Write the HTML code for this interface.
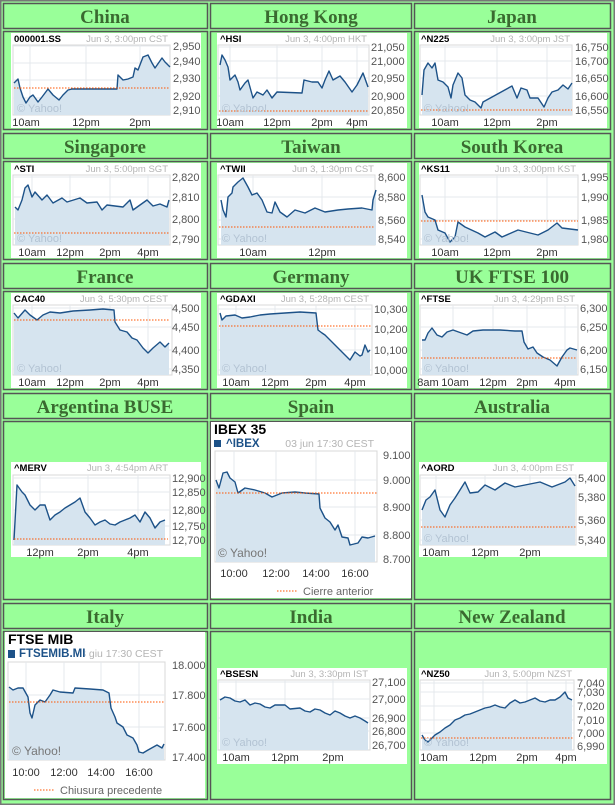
<!DOCTYPE html>
<html><head><meta charset="utf-8"><style>
html,body{margin:0;padding:0;background:#99ff99;}
svg{display:block;}
.t{font-family:"Liberation Serif",serif;font-weight:bold;font-size:19px;fill:#3a6a30;text-anchor:middle;}
.tk{font-family:"Liberation Sans",sans-serif;font-weight:bold;font-size:9.5px;fill:#000;}
.dt{font-family:"Liberation Sans",sans-serif;font-size:9.5px;fill:#b4b4b4;text-anchor:end;}
.yl{font-family:"Liberation Sans",sans-serif;font-size:11px;fill:#555;}
.xl{font-family:"Liberation Sans",sans-serif;font-size:11px;fill:#333;text-anchor:middle;}
.wm{font-family:"Liberation Sans",sans-serif;font-size:11px;fill:#b3c3d3;}
.ln{fill:none;stroke:#1d5288;stroke-width:1.4;stroke-linejoin:round;}
.fl{fill:#d6e4ef;stroke:none;}
.pc{stroke:#ff5500;stroke-width:1;stroke-dasharray:1.5 1.5;}
.g{stroke:#e4e8ec;stroke-width:1;}
.bx{fill:#99ff99;stroke:#555;stroke-width:1.5;}
.big{font-family:"Liberation Sans",sans-serif;font-weight:bold;font-size:14px;fill:#000;}
.bt{font-family:"Liberation Sans",sans-serif;font-weight:bold;font-size:11.5px;fill:#1d5288;}
.lg{font-family:"Liberation Sans",sans-serif;font-size:11px;fill:#666;}
</style></head><body>
<svg width="615" height="805" viewBox="0 0 615 805" xmlns="http://www.w3.org/2000/svg">
<rect x="0" y="0" width="615" height="805" fill="#99ff99"/>
<rect x="0.5" y="0.5" width="614" height="804" fill="none" stroke="#777" stroke-width="2"/>
<!-- boxes -->
<g>
<rect class="bx" x="3.5" y="3.5" width="204" height="25"/><rect class="bx" x="210.5" y="3.5" width="201" height="25"/><rect class="bx" x="414.5" y="3.5" width="196" height="25"/>
<rect class="bx" x="3.5" y="31.5" width="204" height="98"/><rect class="bx" x="210.5" y="31.5" width="201" height="98"/><rect class="bx" x="414.5" y="31.5" width="196" height="98"/>
<rect class="bx" x="3.5" y="133.5" width="204" height="25"/><rect class="bx" x="210.5" y="133.5" width="201" height="25"/><rect class="bx" x="414.5" y="133.5" width="196" height="25"/>
<rect class="bx" x="3.5" y="161.5" width="204" height="98"/><rect class="bx" x="210.5" y="161.5" width="201" height="98"/><rect class="bx" x="414.5" y="161.5" width="196" height="98"/>
<rect class="bx" x="3.5" y="263.5" width="204" height="25"/><rect class="bx" x="210.5" y="263.5" width="201" height="25"/><rect class="bx" x="414.5" y="263.5" width="196" height="25"/>
<rect class="bx" x="3.5" y="291.5" width="204" height="98"/><rect class="bx" x="210.5" y="291.5" width="201" height="98"/><rect class="bx" x="414.5" y="291.5" width="196" height="98"/>
<rect class="bx" x="3.5" y="393.5" width="204" height="25"/><rect class="bx" x="210.5" y="393.5" width="201" height="25"/><rect class="bx" x="414.5" y="393.5" width="196" height="25"/>
<rect class="bx" x="3.5" y="421.5" width="204" height="178"/><rect class="bx" x="210.5" y="421.5" width="201" height="178"/><rect class="bx" x="414.5" y="421.5" width="196" height="178"/>
<rect class="bx" x="3.5" y="603.5" width="204" height="25"/><rect class="bx" x="210.5" y="603.5" width="201" height="25"/><rect class="bx" x="414.5" y="603.5" width="196" height="25"/>
<rect class="bx" x="3.5" y="631.5" width="204" height="168"/><rect class="bx" x="210.5" y="631.5" width="201" height="168"/><rect class="bx" x="414.5" y="631.5" width="196" height="168"/>
</g>
<text class="t" x="105" y="23">China</text><text class="t" x="311" y="23">Hong Kong</text><text class="t" x="512" y="23">Japan</text>
<text class="t" x="105" y="153">Singapore</text><text class="t" x="311" y="153">Taiwan</text><text class="t" x="512" y="153">South Korea</text>
<text class="t" x="105" y="283">France</text><text class="t" x="311" y="283">Germany</text><text class="t" x="512" y="283">UK FTSE 100</text>
<text class="t" x="105" y="413">Argentina BUSE</text><text class="t" x="311" y="413">Spain</text><text class="t" x="512" y="413">Australia</text>
<text class="t" x="105" y="623">Italy</text><text class="t" x="311" y="623">India</text><text class="t" x="512" y="623">New Zealand</text>

<!-- China -->
<rect x="11" y="33" width="190" height="95" fill="#fff"/>
<rect x="13" y="45" width="157" height="70" fill="#fff" stroke="#d8d8d8"/>
<g class="g"><line x1="13" y1="46" x2="170" y2="46"/><line x1="13" y1="63" x2="170" y2="63"/><line x1="13" y1="80" x2="170" y2="80"/><line x1="13" y1="98" x2="170" y2="98"/><line x1="30" y1="45" x2="30" y2="115"/><line x1="86" y1="45" x2="86" y2="115"/><line x1="140" y1="45" x2="140" y2="115"/></g>
<polygon class="fl" points="14,83 18,79 20,88 23,97 26,103 30,97 33,95 38,102 42,97 48,89 53,95 59,100 63,95 68,90 72,89 117,89 118,75 123,80 128,79 133,77 135,68 138,70 143,57 148,55 152,63 155,68 162,58 165,62 170,67 170,115 14,115"/>
<polyline class="ln" points="14,83 18,79 20,88 23,97 26,103 30,97 33,95 38,102 42,97 48,89 53,95 59,100 63,95 68,90 72,89 117,89 118,75 123,80 128,79 133,77 135,68 138,70 143,57 148,55 152,63 155,68 162,58 165,62 170,67"/>
<line class="pc" x1="14" y1="88" x2="170" y2="88"/>
<text class="wm" x="17" y="112">© Yahoo!</text>
<text class="tk" x="14" y="42">000001.SS</text><text class="dt" x="168" y="42">Jun 3, 3:00pm  CST</text>
<text class="yl" x="173" y="50">2,950</text><text class="yl" x="173" y="65">2,940</text><text class="yl" x="173" y="82">2,930</text><text class="yl" x="173" y="100">2,920</text><text class="yl" x="173" y="114">2,910</text>
<text class="xl" x="26" y="126">10am</text><text class="xl" x="86" y="126">12pm</text><text class="xl" x="140" y="126">2pm</text>

<!-- Hong Kong -->
<rect x="217" y="33" width="190" height="95" fill="#fff"/>
<rect x="218" y="45" width="151" height="70" fill="#fff" stroke="#d8d8d8"/>
<g class="g"><line x1="218" y1="47" x2="369" y2="47"/><line x1="218" y1="61" x2="369" y2="61"/><line x1="218" y1="78" x2="369" y2="78"/><line x1="218" y1="96" x2="369" y2="96"/><line x1="230" y1="45" x2="230" y2="115"/><line x1="277" y1="45" x2="277" y2="115"/><line x1="322" y1="45" x2="322" y2="115"/><line x1="357" y1="45" x2="357" y2="115"/></g>
<polygon class="fl" points="220,65 222,55 225,60 228,67 230,80 235,75 238,82 240,90 245,83 248,80 253,98 257,92 263,95 267,90 272,98 277,92 302,93 304,80 312,82 318,82 322,88 325,80 329,71 333,80 340,76 345,82 352,92 357,85 363,73 368,87 368,115 220,115"/>
<polyline class="ln" points="220,65 222,55 225,60 228,67 230,80 235,75 238,82 240,90 245,83 248,80 253,98 257,92 263,95 267,90 272,98 277,92 302,93 304,80 312,82 318,82 322,88 325,80 329,71 333,80 340,76 345,82 352,92 357,85 363,73 368,87"/>
<line class="pc" x1="219" y1="111" x2="368" y2="111"/>
<text class="wm" x="222" y="112">© Yahoo!</text>
<text class="tk" x="220" y="42">^HSI</text><text class="dt" x="367" y="42">Jun 3, 4:00pm  HKT</text>
<text class="yl" x="371" y="51">21,050</text><text class="yl" x="371" y="65">21,000</text><text class="yl" x="371" y="82">20,950</text><text class="yl" x="371" y="100">20,900</text><text class="yl" x="371" y="114">20,850</text>
<text class="xl" x="230" y="126">10am</text><text class="xl" x="277" y="126">12pm</text><text class="xl" x="322" y="126">2pm</text><text class="xl" x="357" y="126">4pm</text>

<!-- Japan -->
<rect x="419" y="33" width="188" height="95" fill="#fff"/>
<rect x="420" y="45" width="152" height="70" fill="#fff" stroke="#d8d8d8"/>
<g class="g"><line x1="420" y1="47" x2="572" y2="47"/><line x1="420" y1="61" x2="572" y2="61"/><line x1="420" y1="78" x2="572" y2="78"/><line x1="420" y1="96" x2="572" y2="96"/><line x1="445" y1="45" x2="445" y2="115"/><line x1="497" y1="45" x2="497" y2="115"/><line x1="547" y1="45" x2="547" y2="115"/></g>
<polygon class="fl" points="422,95 424,70 428,63 432,68 435,63 438,80 443,82 448,87 451,98 453,85 458,73 462,78 465,95 470,100 475,102 481,108 483,102 512,86 517,98 521,88 527,90 530,98 538,98 544,107 548,98 552,92 558,90 563,85 568,89 572,83 572,115 422,115"/>
<polyline class="ln" points="422,95 424,70 428,63 432,68 435,63 438,80 443,82 448,87 451,98 453,85 458,73 462,78 465,95 470,100 475,102 481,108 483,102 512,86 517,98 521,88 527,90 530,98 538,98 544,107 548,98 552,92 558,90 563,85 568,89 572,83"/>
<line class="pc" x1="421" y1="110" x2="572" y2="110"/>
<text class="wm" x="424" y="112">© Yahoo!</text>
<text class="tk" x="421" y="42">^N225</text><text class="dt" x="570" y="42">Jun 3, 3:00pm  JST</text>
<text class="yl" x="575" y="51">16,750</text><text class="yl" x="575" y="65">16,700</text><text class="yl" x="575" y="82">16,650</text><text class="yl" x="575" y="100">16,600</text><text class="yl" x="575" y="114">16,550</text>
<text class="xl" x="445" y="126">10am</text><text class="xl" x="497" y="126">12pm</text><text class="xl" x="547" y="126">2pm</text>

<!-- Singapore -->
<rect x="11" y="163" width="190" height="95" fill="#fff"/>
<rect x="13" y="175" width="157" height="70" fill="#fff" stroke="#d8d8d8"/>
<g class="g"><line x1="13" y1="177" x2="170" y2="177"/><line x1="13" y1="197" x2="170" y2="197"/><line x1="13" y1="219" x2="170" y2="219"/><line x1="13" y1="239" x2="170" y2="239"/><line x1="32" y1="175" x2="32" y2="245"/><line x1="70" y1="175" x2="70" y2="245"/><line x1="110" y1="175" x2="110" y2="245"/><line x1="148" y1="175" x2="148" y2="245"/></g>
<polygon class="fl" points="15,207 18,210 22,200 25,188 28,185 32,197 35,192 42,200 47,195 53,203 62,198 67,202 80,198 87,203 97,202 102,210 107,205 123,207 130,200 133,210 140,205 147,200 153,206 160,204 167,207 169,200 169,245 15,245"/>
<polyline class="ln" points="15,207 18,210 22,200 25,188 28,185 32,197 35,192 42,200 47,195 53,203 62,198 67,202 80,198 87,203 97,202 102,210 107,205 123,207 130,200 133,210 140,205 147,200 153,206 160,204 167,207 169,200"/>
<line class="pc" x1="14" y1="233" x2="169" y2="233"/>
<text class="wm" x="17" y="242">© Yahoo!</text>
<text class="tk" x="14" y="172">^STI</text><text class="dt" x="168" y="172">Jun 3, 5:00pm  SGT</text>
<text class="yl" x="172" y="181">2,820</text><text class="yl" x="172" y="201">2,810</text><text class="yl" x="172" y="223">2,800</text><text class="yl" x="172" y="243">2,790</text>
<text class="xl" x="32" y="256">10am</text><text class="xl" x="70" y="256">12pm</text><text class="xl" x="110" y="256">2pm</text><text class="xl" x="148" y="256">4pm</text>

<!-- Taiwan -->
<rect x="217" y="163" width="190" height="95" fill="#fff"/>
<rect x="218" y="175" width="157" height="70" fill="#fff" stroke="#d8d8d8"/>
<g class="g"><line x1="218" y1="177" x2="375" y2="177"/><line x1="218" y1="197" x2="375" y2="197"/><line x1="218" y1="220" x2="375" y2="220"/><line x1="218" y1="239" x2="375" y2="239"/><line x1="253" y1="175" x2="253" y2="245"/><line x1="322" y1="175" x2="322" y2="245"/></g>
<polygon class="fl" points="221,200 223,210 226,217 228,197 232,193 233,187 238,182 243,178 248,187 252,195 257,193 262,200 267,212 272,213 275,202 280,212 287,217 295,210 305,213 315,208 325,212 338,210 348,209 362,208 372,210 373,200 376,190 376,245 221,245"/>
<polyline class="ln" points="221,200 223,210 226,217 228,197 232,193 233,187 238,182 243,178 248,187 252,195 257,193 262,200 267,212 272,213 275,202 280,212 287,217 295,210 305,213 315,208 325,212 338,210 348,209 362,208 372,210 373,200 376,190"/>
<line class="pc" x1="219" y1="227" x2="375" y2="227"/>
<text class="wm" x="222" y="242">© Yahoo!</text>
<text class="tk" x="220" y="172">^TWII</text><text class="dt" x="374" y="172">Jun 3, 1:30pm  CST</text>
<text class="yl" x="378" y="181">8,600</text><text class="yl" x="378" y="201">8,580</text><text class="yl" x="378" y="224">8,560</text><text class="yl" x="378" y="243">8,540</text>
<text class="xl" x="253" y="256">10am</text><text class="xl" x="322" y="256">12pm</text>

<!-- South Korea -->
<rect x="419" y="163" width="188" height="95" fill="#fff"/>
<rect x="420" y="175" width="158" height="70" fill="#fff" stroke="#d8d8d8"/>
<g class="g"><line x1="420" y1="177" x2="578" y2="177"/><line x1="420" y1="197" x2="578" y2="197"/><line x1="420" y1="220" x2="578" y2="220"/><line x1="420" y1="239" x2="578" y2="239"/><line x1="445" y1="175" x2="445" y2="245"/><line x1="497" y1="175" x2="497" y2="245"/><line x1="547" y1="175" x2="547" y2="245"/></g>
<polygon class="fl" points="422,195 425,212 428,217 435,220 438,230 445,233 450,242 455,237 458,222 465,227 478,233 485,237 495,232 502,237 518,230 538,235 548,230 557,223 562,228 578,230 578,245 422,245"/>
<polyline class="ln" points="422,195 425,212 428,217 435,220 438,230 445,233 450,242 455,237 458,222 465,227 478,233 485,237 495,232 502,237 518,230 538,235 548,230 557,223 562,228 578,230"/>
<line class="pc" x1="421" y1="221" x2="578" y2="221"/>
<text class="wm" x="424" y="242">© Yahoo!</text>
<text class="tk" x="421" y="172">^KS11</text><text class="dt" x="576" y="172">Jun 3, 3:00pm  KST</text>
<text class="yl" x="581" y="181">1,995</text><text class="yl" x="581" y="201">1,990</text><text class="yl" x="581" y="224">1,985</text><text class="yl" x="581" y="243">1,980</text>
<text class="xl" x="445" y="256">10am</text><text class="xl" x="497" y="256">12pm</text><text class="xl" x="547" y="256">2pm</text>

<!-- France -->
<rect x="11" y="293" width="190" height="95" fill="#fff"/>
<rect x="13" y="305" width="159" height="70" fill="#fff" stroke="#d8d8d8"/>
<g class="g"><line x1="13" y1="308" x2="172" y2="308"/><line x1="13" y1="327" x2="172" y2="327"/><line x1="13" y1="350" x2="172" y2="350"/><line x1="13" y1="369" x2="172" y2="369"/><line x1="32" y1="305" x2="32" y2="375"/><line x1="70" y1="305" x2="70" y2="375"/><line x1="110" y1="305" x2="110" y2="375"/><line x1="148" y1="305" x2="148" y2="375"/></g>
<polygon class="fl" points="14,313 18,318 25,310 30,315 37,320 43,315 50,312 60,313 73,311 90,310 103,309 114,310 115,322 120,330 127,332 132,338 137,340 143,348 148,353 153,348 160,342 165,347 169,343 169,375 14,375"/>
<polyline class="ln" points="14,313 18,318 25,310 30,315 37,320 43,315 50,312 60,313 73,311 90,310 103,309 114,310 115,322 120,330 127,332 132,338 137,340 143,348 148,353 153,348 160,342 165,347 169,343"/>
<line class="pc" x1="14" y1="320" x2="170" y2="320"/>
<text class="wm" x="17" y="372">© Yahoo!</text>
<text class="tk" x="14" y="302">CAC40</text><text class="dt" x="168" y="302">Jun 3, 5:30pm  CEST</text>
<text class="yl" x="172" y="312">4,500</text><text class="yl" x="172" y="331">4,450</text><text class="yl" x="172" y="354">4,400</text><text class="yl" x="172" y="373">4,350</text>
<text class="xl" x="32" y="386">10am</text><text class="xl" x="70" y="386">12pm</text><text class="xl" x="110" y="386">2pm</text><text class="xl" x="148" y="386">4pm</text>

<!-- Germany -->
<rect x="217" y="293" width="190" height="95" fill="#fff"/>
<rect x="218" y="305" width="154" height="70" fill="#fff" stroke="#d8d8d8"/>
<g class="g"><line x1="218" y1="309" x2="372" y2="309"/><line x1="218" y1="329" x2="372" y2="329"/><line x1="218" y1="350" x2="372" y2="350"/><line x1="218" y1="370" x2="372" y2="370"/><line x1="236" y1="305" x2="236" y2="375"/><line x1="275" y1="305" x2="275" y2="375"/><line x1="316" y1="305" x2="316" y2="375"/><line x1="355" y1="305" x2="355" y2="375"/></g>
<polygon class="fl" points="220,313 222,320 226,316 235,315 242,318 250,317 260,315 270,314 285,313 300,312 316,313 318,330 322,333 325,335 330,340 335,345 340,350 345,355 350,360 355,352 360,356 362,355 365,345 368,352 370,350 370,375 220,375"/>
<polyline class="ln" points="220,313 222,320 226,316 235,315 242,318 250,317 260,315 270,314 285,313 300,312 316,313 318,330 322,333 325,335 330,340 335,345 340,350 345,355 350,360 355,352 360,356 362,355 365,345 368,352 370,350"/>
<line class="pc" x1="219" y1="326" x2="371" y2="326"/>
<text class="wm" x="222" y="372">© Yahoo!</text>
<text class="tk" x="220" y="302">^GDAXI</text><text class="dt" x="369" y="302">Jun 3, 5:28pm  CEST</text>
<text class="yl" x="374" y="313">10,300</text><text class="yl" x="374" y="333">10,200</text><text class="yl" x="374" y="354">10,100</text><text class="yl" x="374" y="374">10,000</text>
<text class="xl" x="236" y="386">10am</text><text class="xl" x="275" y="386">12pm</text><text class="xl" x="316" y="386">2pm</text><text class="xl" x="355" y="386">4pm</text>

<!-- UK -->
<rect x="419" y="293" width="188" height="95" fill="#fff"/>
<rect x="420" y="305" width="158" height="70" fill="#fff" stroke="#d8d8d8"/>
<g class="g"><line x1="420" y1="308" x2="578" y2="308"/><line x1="420" y1="327" x2="578" y2="327"/><line x1="420" y1="350" x2="578" y2="350"/><line x1="420" y1="369" x2="578" y2="369"/><line x1="453" y1="305" x2="453" y2="375"/><line x1="493" y1="305" x2="493" y2="375"/><line x1="527" y1="305" x2="527" y2="375"/><line x1="565" y1="305" x2="565" y2="375"/></g>
<polygon class="fl" points="422,340 425,340 428,333 432,328 437,335 442,337 447,332 453,330 467,335 473,331 483,330 500,330 515,331 522,331 524,342 528,349 533,347 537,353 543,357 550,360 557,366 562,357 567,350 570,348 577,350 577,375 422,375"/>
<polyline class="ln" points="422,340 425,340 428,333 432,328 437,335 442,337 447,332 453,330 467,335 473,331 483,330 500,330 515,331 522,331 524,342 528,349 533,347 537,353 543,357 550,360 557,366 562,357 567,350 570,348 577,350"/>
<line class="pc" x1="421" y1="358" x2="577" y2="358"/>
<text class="wm" x="424" y="372">© Yahoo!</text>
<text class="tk" x="421" y="302">^FTSE</text><text class="dt" x="575" y="302">Jun 3, 4:29pm  BST</text>
<text class="yl" x="580" y="312">6,300</text><text class="yl" x="580" y="331">6,250</text><text class="yl" x="580" y="354">6,200</text><text class="yl" x="580" y="373">6,150</text>
<text class="xl" x="428" y="386">8am</text><text class="xl" x="455" y="386">10am</text><text class="xl" x="493" y="386">12pm</text><text class="xl" x="527" y="386">2pm</text><text class="xl" x="565" y="386">4pm</text>

<!-- Argentina -->
<rect x="11" y="462" width="190" height="95" fill="#fff"/>
<rect x="13" y="475" width="157" height="70" fill="#fff" stroke="#d8d8d8"/>
<g class="g"><line x1="13" y1="478" x2="170" y2="478"/><line x1="13" y1="492" x2="170" y2="492"/><line x1="13" y1="510" x2="170" y2="510"/><line x1="13" y1="526" x2="170" y2="526"/><line x1="40" y1="475" x2="40" y2="545"/><line x1="88" y1="475" x2="88" y2="545"/><line x1="138" y1="475" x2="138" y2="545"/></g>
<polygon class="fl" points="14,540 17,485 22,492 25,495 30,505 35,510 40,505 45,505 50,520 55,515 60,512 65,508 70,505 75,502 80,498 85,512 90,518 95,525 100,522 105,520 110,524 115,525 120,522 125,520 130,518 135,515 140,522 145,512 150,518 155,528 160,522 165,520 165,545 14,545"/>
<polyline class="ln" points="14,540 17,485 22,492 25,495 30,505 35,510 40,505 45,505 50,520 55,515 60,512 65,508 70,505 75,502 80,498 85,512 90,518 95,525 100,522 105,520 110,524 115,525 120,522 125,520 130,518 135,515 140,522 145,512 150,518 155,528 160,522 165,520"/>
<line class="pc" x1="14" y1="539" x2="168" y2="539"/>
<text class="tk" x="14" y="471">^MERV</text><text class="dt" x="168" y="471">Jun 3, 4:54pm  ART</text>
<text class="yl" x="172" y="482">12,900</text><text class="yl" x="172" y="496">12,850</text><text class="yl" x="172" y="514">12,800</text><text class="yl" x="172" y="530">12,750</text><text class="yl" x="172" y="544">12,700</text>
<text class="xl" x="40" y="556">12pm</text><text class="xl" x="88" y="556">2pm</text><text class="xl" x="138" y="556">4pm</text>

<!-- Spain -->
<rect x="211" y="422" width="200" height="176" fill="#fff"/>
<text class="big" x="214" y="434">IBEX 35</text>
<rect x="214" y="440" width="7" height="7" fill="#1d5288"/>
<text class="bt" x="226" y="447">^IBEX</text>
<text class="dt" x="374" y="447" style="font-size:10.5px">03 jun 17:30 CEST</text>
<rect x="215" y="451" width="162" height="111" fill="#fff" stroke="#d8d8d8"/>
<g class="g"><line x1="215" y1="480" x2="377" y2="480"/><line x1="215" y1="507" x2="377" y2="507"/><line x1="215" y1="535" x2="377" y2="535"/><line x1="234" y1="451" x2="234" y2="562"/><line x1="276" y1="451" x2="276" y2="562"/><line x1="316" y1="451" x2="316" y2="562"/><line x1="355" y1="451" x2="355" y2="562"/></g>
<polygon class="fl" points="216,480 219,488 223,473 227,472 230,478 235,482 238,493 245,488 255,490 265,493 272,497 282,493 295,492 305,493 319,494 320,508 325,518 330,522 335,530 338,525 342,537 348,538 350,545 358,543 362,537 368,538 375,536 375,562 216,562"/>
<polyline class="ln" points="216,480 219,488 223,473 227,472 230,478 235,482 238,493 245,488 255,490 265,493 272,497 282,493 295,492 305,493 319,494 320,508 325,518 330,522 335,530 338,525 342,537 348,538 350,545 358,543 362,537 368,538 375,536"/>
<line class="pc" x1="216" y1="493" x2="377" y2="493"/>
<text class="wm" x="218" y="557" style="fill:#777;font-size:12px">© Yahoo!</text>
<text class="yl" x="383" y="459">9.100</text><text class="yl" x="383" y="484">9.000</text><text class="yl" x="383" y="511">8.900</text><text class="yl" x="383" y="539">8.800</text><text class="yl" x="383" y="563">8.700</text>
<text class="xl" x="234" y="577">10:00</text><text class="xl" x="276" y="577">12:00</text><text class="xl" x="316" y="577">14:00</text><text class="xl" x="355" y="577">16:00</text>
<line class="pc" x1="277" y1="591" x2="298" y2="591"/><text class="lg" x="303" y="595">Cierre anterior</text>

<!-- Australia -->
<rect x="419" y="462" width="188" height="95" fill="#fff"/>
<rect x="420" y="475" width="156" height="70" fill="#fff" stroke="#d8d8d8"/>
<g class="g"><line x1="420" y1="478" x2="576" y2="478"/><line x1="420" y1="497" x2="576" y2="497"/><line x1="420" y1="520" x2="576" y2="520"/><line x1="420" y1="540" x2="576" y2="540"/><line x1="436" y1="475" x2="436" y2="545"/><line x1="485" y1="475" x2="485" y2="545"/><line x1="530" y1="475" x2="530" y2="545"/></g>
<polygon class="fl" points="422,510 426,500 430,497 435,490 440,510 445,517 450,505 455,498 460,490 465,482 470,493 478,492 485,485 495,490 505,483 515,487 525,485 540,482 552,487 565,482 570,478 575,486 575,545 422,545"/>
<polyline class="ln" points="422,510 426,500 430,497 435,490 440,510 445,517 450,505 455,498 460,490 465,482 470,493 478,492 485,485 495,490 505,483 515,487 525,485 540,482 552,487 565,482 570,478 575,486"/>
<line class="pc" x1="421" y1="527" x2="576" y2="527"/>
<text class="wm" x="424" y="542">© Yahoo!</text>
<text class="tk" x="421" y="471">^AORD</text><text class="dt" x="574" y="471">Jun 3, 4:00pm  EST</text>
<text class="yl" x="578" y="482">5,400</text><text class="yl" x="578" y="501">5,380</text><text class="yl" x="578" y="524">5,360</text><text class="yl" x="578" y="544">5,340</text>
<text class="xl" x="436" y="556">10am</text><text class="xl" x="485" y="556">12pm</text><text class="xl" x="530" y="556">2pm</text>

<!-- Italy -->
<rect x="5" y="632" width="200" height="166" fill="#fff"/>
<text class="big" x="8" y="644">FTSE MIB</text>
<rect x="8" y="650" width="7" height="8" fill="#1d5288"/>
<text class="dt" x="163" y="657" style="font-size:10.5px">3 giu 17:30 CEST</text>
<rect x="19" y="647" width="66" height="12" fill="#fff"/>
<text class="bt" x="19" y="657">FTSEMIB.MI</text>
<rect x="8" y="662" width="157" height="98" fill="#fff" stroke="#d8d8d8"/>
<g class="g"><line x1="8" y1="695" x2="165" y2="695"/><line x1="8" y1="727" x2="165" y2="727"/><line x1="26" y1="662" x2="26" y2="760"/><line x1="64" y1="662" x2="64" y2="760"/><line x1="101" y1="662" x2="101" y2="760"/><line x1="139" y1="662" x2="139" y2="760"/></g>
<polygon class="fl" points="9,687 13,690 18,688 23,688 28,697 30,713 32,718 35,705 40,700 45,702 50,695 53,690 60,692 73,693 75,688 90,689 103,690 109,693 111,708 115,717 117,723 123,727 127,735 133,738 137,745 139,752 143,753 148,750 157,745 162,748 164,744 164,760 9,760"/>
<polyline class="ln" points="9,687 13,690 18,688 23,688 28,697 30,713 32,718 35,705 40,700 45,702 50,695 53,690 60,692 73,693 75,688 90,689 103,690 109,693 111,708 115,717 117,723 123,727 127,735 133,738 137,745 139,752 143,753 148,750 157,745 162,748 164,744"/>
<line class="pc" x1="9" y1="702" x2="165" y2="702"/>
<text class="wm" x="12" y="755" style="fill:#777;font-size:12px">© Yahoo!</text>
<text class="yl" x="172" y="669">18.000</text><text class="yl" x="172" y="699">17.800</text><text class="yl" x="172" y="731">17.600</text><text class="yl" x="172" y="761">17.400</text>
<text class="xl" x="26" y="776">10:00</text><text class="xl" x="64" y="776">12:00</text><text class="xl" x="101" y="776">14:00</text><text class="xl" x="139" y="776">16:00</text>
<line class="pc" x1="34" y1="790" x2="55" y2="790"/><text class="lg" x="60" y="794">Chiusura precedente</text>

<!-- India -->
<rect x="217" y="668" width="190" height="96" fill="#fff"/>
<rect x="218" y="680" width="152" height="70" fill="#fff" stroke="#d8d8d8"/>
<g class="g"><line x1="218" y1="682" x2="370" y2="682"/><line x1="218" y1="699" x2="370" y2="699"/><line x1="218" y1="718" x2="370" y2="718"/><line x1="218" y1="731" x2="370" y2="731"/><line x1="236" y1="680" x2="236" y2="750"/><line x1="285" y1="680" x2="285" y2="750"/><line x1="333" y1="680" x2="333" y2="750"/></g>
<polygon class="fl" points="220,700 225,697 230,698 235,701 240,702 245,700 250,705 255,703 260,704 265,707 270,708 275,705 285,705 290,709 300,708 305,711 310,712 315,709 320,710 325,713 330,715 335,711 340,713 345,716 350,718 355,716 360,718 365,721 368,723 368,750 220,750"/>
<polyline class="ln" points="220,700 225,697 230,698 235,701 240,702 245,700 250,705 255,703 260,704 265,707 270,708 275,705 285,705 290,709 300,708 305,711 310,712 315,709 320,710 325,713 330,715 335,711 340,713 345,716 350,718 355,716 360,718 365,721 368,723"/>
<text class="wm" x="222" y="746">© Yahoo!</text>
<text class="tk" x="220" y="677">^BSESN</text><text class="dt" x="368" y="677">Jun 3, 3:30pm  IST</text>
<text class="yl" x="372" y="686">27,100</text><text class="yl" x="372" y="703">27,000</text><text class="yl" x="372" y="722">26,900</text><text class="yl" x="372" y="735">26,800</text><text class="yl" x="372" y="749">26,700</text>
<text class="xl" x="236" y="761">10am</text><text class="xl" x="285" y="761">12pm</text><text class="xl" x="333" y="761">2pm</text>

<!-- New Zealand -->
<rect x="419" y="668" width="188" height="96" fill="#fff"/>
<rect x="420" y="680" width="154" height="70" fill="#fff" stroke="#d8d8d8"/>
<g class="g"><line x1="420" y1="683" x2="574" y2="683"/><line x1="420" y1="692" x2="574" y2="692"/><line x1="420" y1="706" x2="574" y2="706"/><line x1="420" y1="720" x2="574" y2="720"/><line x1="420" y1="733" x2="574" y2="733"/><line x1="434" y1="680" x2="434" y2="750"/><line x1="483" y1="680" x2="483" y2="750"/><line x1="527" y1="680" x2="527" y2="750"/><line x1="566" y1="680" x2="566" y2="750"/></g>
<polygon class="fl" points="422,735 425,740 428,742 432,738 435,735 440,732 445,728 450,725 455,720 460,718 465,715 470,714 475,712 480,710 485,708 490,707 495,705 500,707 505,708 510,703 515,700 520,703 525,702 530,700 535,698 540,701 545,702 550,700 555,700 560,697 565,692 568,698 572,700 572,750 422,750"/>
<polyline class="ln" points="422,735 425,740 428,742 432,738 435,735 440,732 445,728 450,725 455,720 460,718 465,715 470,714 475,712 480,710 485,708 490,707 495,705 500,707 505,708 510,703 515,700 520,703 525,702 530,700 535,698 540,701 545,702 550,700 555,700 560,697 565,692 568,698 572,700"/>
<line class="pc" x1="421" y1="738" x2="573" y2="738"/>
<text class="wm" x="424" y="746">© Yahoo!</text>
<text class="tk" x="421" y="677">^NZ50</text><text class="dt" x="572" y="677">Jun 3, 5:00pm  NZST</text>
<text class="yl" x="577" y="687">7,040</text><text class="yl" x="577" y="696">7,030</text><text class="yl" x="577" y="710">7,020</text><text class="yl" x="577" y="724">7,010</text><text class="yl" x="577" y="737">7,000</text><text class="yl" x="577" y="750">6,990</text>
<text class="xl" x="434" y="761">10am</text><text class="xl" x="483" y="761">12pm</text><text class="xl" x="527" y="761">2pm</text><text class="xl" x="566" y="761">4pm</text>
</svg>
</body></html>
